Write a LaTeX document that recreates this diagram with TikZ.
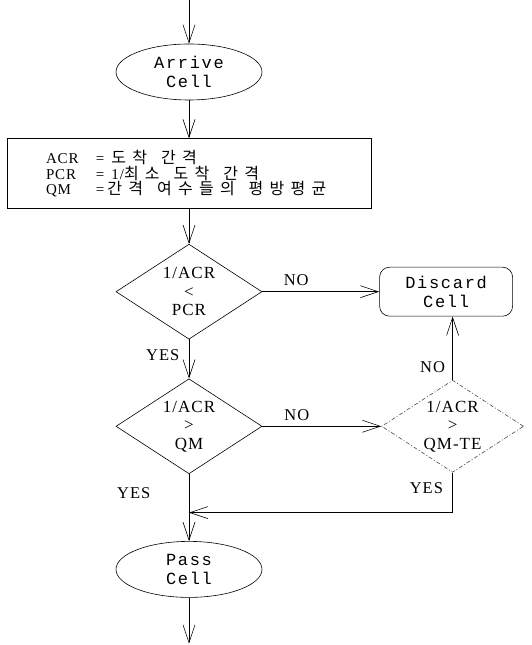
\documentclass[tikz,border=0pt]{standalone}
\usepackage{fontspec}
\setmainfont[LetterSpace=6]{Liberation Serif}
\setmonofont[LetterSpace=10]{Liberation Mono}
\newfontfamily\kr[LetterSpace=39]{Noto Sans CJK KR}
\newcommand\hangul[1]{{\fontsize{16}{14}\kr #1}}
\newcommand\kgap{\hspace{14pt}}
\newcommand\abbr[1]{\makebox[50pt][l]{#1}}
\usetikzlibrary{positioning,shapes.geometric,arrows.meta}

\begin{document}
\begin{tikzpicture}[x=1pt, y=1pt, ->, >={Straight Barb[length=18pt,width=12pt]}, line width=0.6pt,
	cellnode/.style={ellipse, draw, inner sep=0pt, minimum width=146pt, minimum height=56pt, align=center, font=\ttfamily\fontsize{17}{19}\selectfont},
	defbox/.style={rectangle, draw, minimum width=364pt, minimum height=70pt, text width=286pt, align=left, font=\fontsize{15}{14}\selectfont},
	decide/.style={diamond, shape aspect=1.5, draw, inner sep=0pt, minimum width=146pt, minimum height=95pt, align=center, font=\fontsize{17}{18.5}\selectfont},
	answer/.style={font=\fontsize{16.5}{16.5}\selectfont}]
	\useasboundingbox (0,0) rectangle (532,645);
	\node[cellnode] (arrive) at (189,573)                 {Arrive\\Cell};
	\coordinate[above=44pt of arrive.north] (in);
	\node[defbox] (defs) [below=38pt of arrive]          {\abbr{ACR}=\hspace{7pt}\hangul{도착}\kgap\hangul{간격}\\
	                                                      \abbr{PCR}=\hspace{7pt}1/\hangul{최소}\kgap\hangul{도착}\kgap\hangul{간격}\\
	                                                      \abbr{QM}=\hspace{3pt}\hangul{간격}\kgap\hangul{여수들의}\kgap\hangul{평방평균}};
	\node[decide] (d1) [below=35pt of defs]               {1/ACR\\<\\PCR};
	\node[decide] (d2) [below=39pt of d1]                 {1/ACR\\>\\QM};
	\node[cellnode] (pass) [below=67pt of d2]             {Pass\\Cell};
	\coordinate[below=46pt of pass.south] (out);
	\node[rectangle, rounded corners=10pt, draw, minimum width=133pt, minimum height=49pt, align=center,
	      font=\ttfamily\fontsize{17}{19}\selectfont] (discard) [right=117pt of d1] {Discard\\Cell};
	\node[decide, draw=black!70, dash pattern=on 4pt off 2pt on 1pt off 2pt, minimum width=142pt, minimum height=92pt] (d3) [right=119pt of d2] {1/ACR\\>\\QM-TE};
	\coordinate[below=40pt of d3.south] (join);

	\path 	(in) edge                                               (arrive)
	(arrive) edge                                                   (defs)
	(defs) edge                                                     (d1)
	(d1) edge          node[answer, pos=0.29, above=2pt] {NO}       (discard)
	(d1) edge          node[answer, pos=0.4, left=6pt] {YES}        (d2)
	(d2) edge          node[answer, pos=0.29, above=2pt] {NO}       (d3)
	(d2) edge          node[answer, pos=0.28, left=35pt] {YES}      (pass)
	(pass) edge                                                     (out);
	\draw (d3.north) -- node[answer, pos=0.2, left=4pt] {NO} (d3.north |- discard.south);
	\draw[-] (d3.south) -- node[answer, pos=0.4, left=6pt] {YES} (join);
	\draw (join) -- (join -| d2.south);
\end{tikzpicture}
\end{document}
